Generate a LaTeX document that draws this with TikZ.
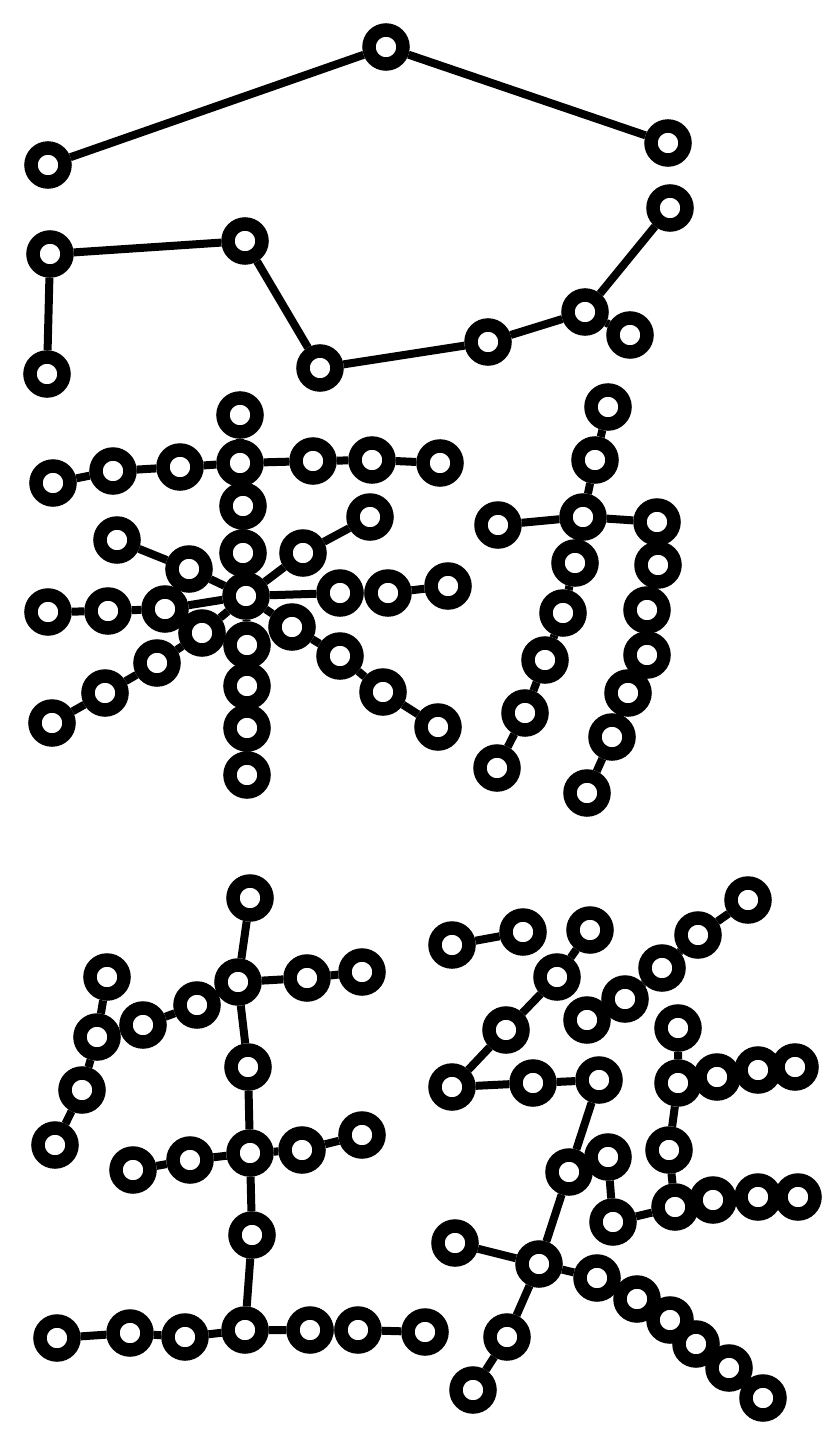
\documentclass[tikz,border=0pt]{standalone}
\usepackage{tikz}
\usetikzlibrary{positioning}

\begin{document}
\begin{tikzpicture}[
    x=0.02cm, y=-0.02cm,
    ring/.style={circle, draw=black, fill=white, line width=0.27cm, minimum size=0.68cm, inner sep=0pt},
    bond/.style={draw=black, line width=0.16cm},
]

\useasboundingbox (0,0) rectangle (834,1443);

% Upper arc
\node[ring] (arcA) at (48,165) {};
\node[ring] (arcB) at (386,47) {};
\node[ring] (arcC) at (668,143) {};
\draw[bond] (arcA) -- (arcB) -- (arcC);

% Hook line
\node[ring] (hk1) at (47,374) {};
\node[ring] (hk2) at (50,254) {};
\node[ring] (hk3) at (245,241) {};
\node[ring] (hk4) at (320,368) {};
\node[ring] (hk5) at (488,342) {};
\node[ring] (hk6) at (585,312) {};
\node[ring] (hk7) at (670,208) {};
\node[ring] (hk8) at (630,335) {};
\draw[bond] (hk1) -- (hk2) -- (hk3) -- (hk4) -- (hk5) -- (hk6) -- (hk7);
\draw[bond] (hk6) -- (hk8);

% Star: top row
\node[ring] (sTop) at (240,415) {};
\node[ring] (sHub) at (240,463) {};
\node[ring] (sL1) at (180,467) {};
\node[ring] (sL2) at (113,471) {};
\node[ring] (sL3) at (53,483) {};
\node[ring] (sR1) at (313,461) {};
\node[ring] (sR2) at (372,460) {};
\node[ring] (sR3) at (440,463) {};
\draw[bond] (sTop) -- (sHub);
\draw[bond] (sL3) -- (sL2) -- (sL1) -- (sHub) -- (sR1) -- (sR2) -- (sR3);

% Star: stem and centre
\node[ring] (sV1) at (243,506) {};
\node[ring] (sV2) at (243,553) {};
\node[ring] (sC) at (246,596) {};
\node[ring] (sD1) at (247,645) {};
\node[ring] (sD2) at (247,686) {};
\node[ring] (sD3) at (247,728) {};
\node[ring] (sD4) at (247,775) {};
\draw[bond] (sHub) -- (sV1) -- (sV2) -- (sC) -- (sD1) -- (sD2) -- (sD3) -- (sD4);

% Star: spokes
\node[ring] (sNW1) at (189,569) {};
\node[ring] (sNW2) at (117,540) {};
\node[ring] (sW1) at (165,609) {};
\node[ring] (sW2) at (108,611) {};
\node[ring] (sW3) at (48,612) {};
\node[ring] (sSW1) at (202,633) {};
\node[ring] (sSW2) at (157,663) {};
\node[ring] (sSW3) at (105,693) {};
\node[ring] (sSW4) at (52,723) {};
\node[ring] (sNE1) at (303,553) {};
\node[ring] (sNE2) at (370,517) {};
\node[ring] (sE1) at (340,593) {};
\node[ring] (sE2) at (388,593) {};
\node[ring] (sE3) at (448,586) {};
\node[ring] (sSE1) at (292,627) {};
\node[ring] (sSE2) at (340,656) {};
\node[ring] (sSE3) at (383,692) {};
\node[ring] (sSE4) at (438,727) {};
\draw[bond] (sC) -- (sNW1) -- (sNW2);
\draw[bond] (sC) -- (sW1) -- (sW2) -- (sW3);
\draw[bond] (sC) -- (sSW1) -- (sSW2) -- (sSW3) -- (sSW4);
\draw[bond] (sC) -- (sNE1) -- (sNE2);
\draw[bond] (sC) -- (sE1) -- (sE2) -- (sE3);
\draw[bond] (sC) -- (sSE1) -- (sSE2) -- (sSE3) -- (sSE4);

% Fork
\node[ring] (fTop) at (608,407) {};
\node[ring] (fNeck) at (595,460) {};
\node[ring] (fHub) at (583,517) {};
\node[ring] (fL) at (498,525) {};
\node[ring] (fR) at (657,522) {};
\node[ring] (fA1) at (575,563) {};
\node[ring] (fA2) at (563,613) {};
\node[ring] (fA3) at (545,660) {};
\node[ring] (fA4) at (525,713) {};
\node[ring] (fA5) at (497,768) {};
\node[ring] (fB1) at (658,565) {};
\node[ring] (fB2) at (647,610) {};
\node[ring] (fB3) at (647,655) {};
\node[ring] (fB4) at (628,693) {};
\node[ring] (fB5) at (612,737) {};
\node[ring] (fB6) at (587,793) {};
\draw[bond] (fTop) -- (fNeck) -- (fHub);
\draw[bond] (fL) -- (fHub) -- (fR);
\draw[bond] (fHub) -- (fA1) -- (fA2) -- (fA3) -- (fA4) -- (fA5);
\draw[bond] (fR) -- (fB1) -- (fB2) -- (fB3) -- (fB4) -- (fB5) -- (fB6);

% Tree: upper branch
\node[ring] (tTop) at (250,898) {};
\node[ring] (tHub1) at (238,982) {};
\node[ring] (tR1) at (307,978) {};
\node[ring] (tR2) at (362,972) {};
\node[ring] (tL1) at (197,1005) {};
\node[ring] (tL2) at (143,1025) {};
\node[ring] (tJ) at (97,1037) {};
\node[ring] (tJUp) at (107,977) {};
\node[ring] (tJD1) at (82,1090) {};
\node[ring] (tJD2) at (55,1145) {};
\draw[bond] (tTop) -- (tHub1) -- (tR1) -- (tR2);
\draw[bond] (tHub1) -- (tL1) -- (tL2) -- (tJ) -- (tJD1) -- (tJD2);
\draw[bond] (tJUp) -- (tJ);

% Tree: middle branch
\node[ring] (tV1) at (248,1067) {};
\node[ring] (tHub2) at (250,1153) {};
\node[ring] (tML1) at (190,1160) {};
\node[ring] (tML2) at (133,1170) {};
\node[ring] (tMR1) at (302,1150) {};
\node[ring] (tMR2) at (362,1135) {};
\draw[bond] (tHub1) -- (tV1) -- (tHub2);
\draw[bond] (tML2) -- (tML1) -- (tHub2) -- (tMR1) -- (tMR2);

% Tree: base
\node[ring] (tV2) at (252,1235) {};
\node[ring] (tHub3) at (245,1330) {};
\node[ring] (tBL1) at (185,1337) {};
\node[ring] (tBL2) at (130,1333) {};
\node[ring] (tBL3) at (57,1338) {};
\node[ring] (tBR1) at (310,1330) {};
\node[ring] (tBR2) at (358,1330) {};
\node[ring] (tBR3) at (425,1332) {};
\draw[bond] (tHub2) -- (tV2) -- (tHub3);
\draw[bond] (tBL3) -- (tBL2) -- (tBL1) -- (tHub3) -- (tBR1) -- (tBR2) -- (tBR3);

% Cluster: left part
\node[ring] (gP1) at (452,945) {};
\node[ring] (gP2) at (523,932) {};
\node[ring] (gA1) at (590,930) {};
\node[ring] (gA2) at (557,977) {};
\node[ring] (gA3) at (506,1030) {};
\node[ring] (gJ) at (452,1087) {};
\node[ring] (gB1) at (533,1083) {};
\node[ring] (gB2) at (599,1080) {};
\node[ring] (gB3) at (569,1172) {};
\node[ring] (gHub) at (539,1264) {};
\node[ring] (gW) at (455,1243) {};
\node[ring] (gS1) at (507,1337) {};
\node[ring] (gS2) at (473,1390) {};
\draw[bond] (gP1) -- (gP2);
\draw[bond] (gA1) -- (gA2) -- (gA3) -- (gJ) -- (gB1) -- (gB2) -- (gB3) -- (gHub);
\draw[bond] (gW) -- (gHub) -- (gS1) -- (gS2);

% Cluster: long tail
\node[ring] (gE1) at (597,1278) {};
\node[ring] (gE2) at (637,1299) {};
\node[ring] (gE3) at (670,1320) {};
\node[ring] (gE4) at (696,1344) {};
\node[ring] (gE5) at (729,1368) {};
\node[ring] (gE6) at (763,1398) {};
\draw[bond] (gHub) -- (gE1) -- (gE2) -- (gE3) -- (gE4) -- (gE5) -- (gE6);

% Cluster: diagonal chain
\node[ring] (gD1) at (748,900) {};
\node[ring] (gD2) at (698,935) {};
\node[ring] (gD3) at (662,968) {};
\node[ring] (gD4) at (625,999) {};
\node[ring] (gD5) at (587,1020) {};
\draw[bond] (gD1) -- (gD2) -- (gD3) -- (gD4) -- (gD5);

% Cluster: comb on the right
\node[ring] (gK0) at (678,1028) {};
\node[ring] (gK1) at (678,1083) {};
\node[ring] (gK1a) at (717,1077) {};
\node[ring] (gK1b) at (758,1070) {};
\node[ring] (gK1c) at (795,1067) {};
\node[ring] (gK2) at (669,1150) {};
\node[ring] (gK3) at (675,1207) {};
\node[ring] (gK3a) at (713,1200) {};
\node[ring] (gK3b) at (758,1197) {};
\node[ring] (gK3c) at (798,1197) {};
\node[ring] (gK4) at (613,1222) {};
\node[ring] (gK5) at (608,1157) {};
\draw[bond] (gK0) -- (gK1) -- (gK1a) -- (gK1b) -- (gK1c);
\draw[bond] (gK1) -- (gK2) -- (gK3) -- (gK3a) -- (gK3b) -- (gK3c);
\draw[bond] (gK3) -- (gK4) -- (gK5);

\end{tikzpicture}
\end{document}
